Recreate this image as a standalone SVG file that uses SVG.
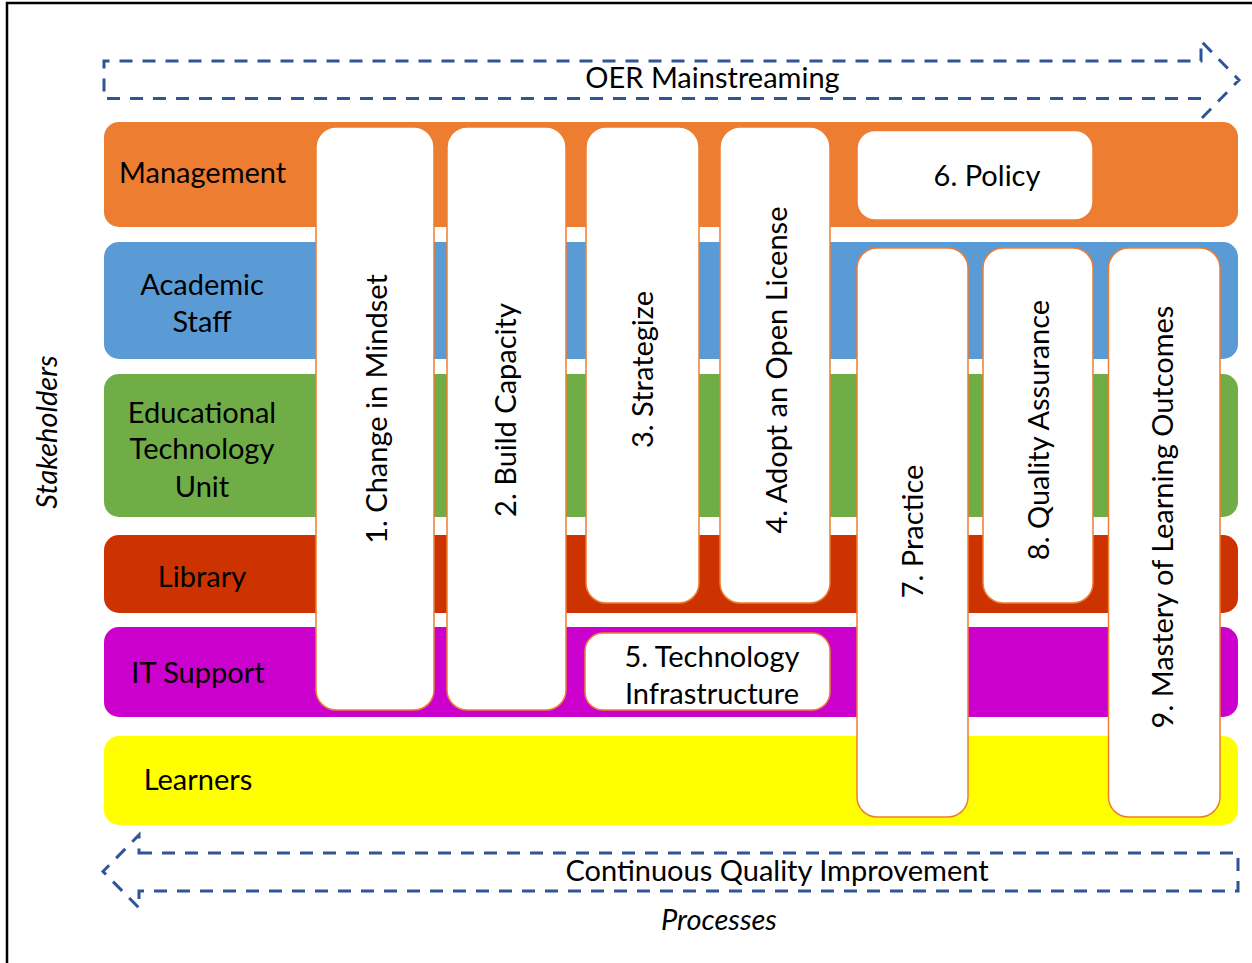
<svg xmlns="http://www.w3.org/2000/svg" width="1252" height="963" viewBox="0 0 1252 963">
<style>
text{font-family:Lato,"Liberation Sans",sans-serif;font-size:29px;fill:#000}
.c{text-anchor:middle}
.it{font-style:italic}
.box{fill:#fff;stroke:#ED7D31;stroke-width:1.5}
.dash{fill:none;stroke:#2F5597;stroke-width:3;stroke-dasharray:13 10}
</style>
<rect x="7" y="3" width="1300" height="1000" fill="#fff" stroke="#000" stroke-width="2.5"/>
<g id="connectors">
<path class="dash" d="M1201,98.5 L104,98.5 L104,61 L1201,61 L1201,41 L1239,80 L1201,119"/>
<path class="dash" d="M139,853 L1238,853 L1238,891 L139,891 L139,908 L103,871.5 L139,835 Z"/>
</g>
<g id="band-management"><rect x="104" y="122" width="1134" height="105" rx="15" fill="#ED7D31"/><text x="119" y="183">Management</text></g>
<g id="band-academic"><rect x="104" y="242" width="1134" height="117" rx="15" fill="#5B9BD5"/><text class="c" x="202" y="295">Academic</text><text class="c" x="202" y="332">Staff</text></g>
<g id="band-edtech"><rect x="104" y="374" width="1134" height="143" rx="15" fill="#70AD47"/><text class="c" x="202" y="423">Educational</text><text class="c" x="202" y="459">Technology</text><text class="c" x="202" y="497">Unit</text></g>
<g id="band-library"><rect x="104" y="535" width="1134" height="78" rx="15" fill="#CC3300"/><text class="c" x="202" y="587">Library</text></g>
<g id="band-it"><rect x="104" y="627" width="1134" height="90" rx="15" fill="#CC00CC"/><text class="c" x="198" y="683">IT Support</text></g>
<g id="band-learners"><rect x="104" y="736" width="1134" height="89" rx="15" fill="#FFFF00"/><text class="c" x="198" y="790">Learners</text></g>
<g id="n1"><rect class="box" x="316" y="127" width="118" height="583" rx="20"/><text class="c" transform="translate(387,409) rotate(-90)">1. Change in Mindset</text></g>
<g id="n2"><rect class="box" x="447" y="127" width="119" height="583" rx="20"/><text class="c" transform="translate(516,410) rotate(-90)">2. Build Capacity</text></g>
<g id="n3"><rect class="box" x="586" y="127" width="113" height="476" rx="20"/><text class="c" transform="translate(653,369.5) rotate(-90)">3. Strategize</text></g>
<g id="n4"><rect class="box" x="720" y="127" width="110" height="476" rx="20"/><text class="c" transform="translate(786.5,370) rotate(-90)">4. Adopt an Open License</text></g>
<g id="n5"><rect class="box" x="585" y="633" width="245" height="77" rx="18"/><text class="c" x="712" y="667">5. Technology</text><text class="c" x="712" y="704">Infrastructure</text></g>
<g id="n6"><rect class="box" x="857" y="130.5" width="236" height="89.5" rx="18"/><text class="c" x="987" y="186">6. Policy</text></g>
<g id="n7"><rect class="box" x="857" y="248" width="111" height="569" rx="20"/><text class="c" transform="translate(922.5,531.5) rotate(-90)">7. Practice</text></g>
<g id="n8"><rect class="box" x="983" y="248" width="110" height="355" rx="20"/><text class="c" transform="translate(1049,430) rotate(-90)">8. Quality Assurance</text></g>
<g id="n9"><rect class="box" x="1108.5" y="248" width="111.5" height="569" rx="20"/><text class="c" transform="translate(1173,517) rotate(-90)">9. Mastery of Learning Outcomes</text></g>
<g id="labels">
<text class="c" x="712.5" y="88">OER Mainstreaming</text>
<text class="c" x="777" y="881">Continuous Quality Improvement</text>
<text class="c it" x="719" y="930">Processes</text>
<text class="c it" transform="translate(57,432) rotate(-90)">Stakeholders</text>
</g>
</svg>
